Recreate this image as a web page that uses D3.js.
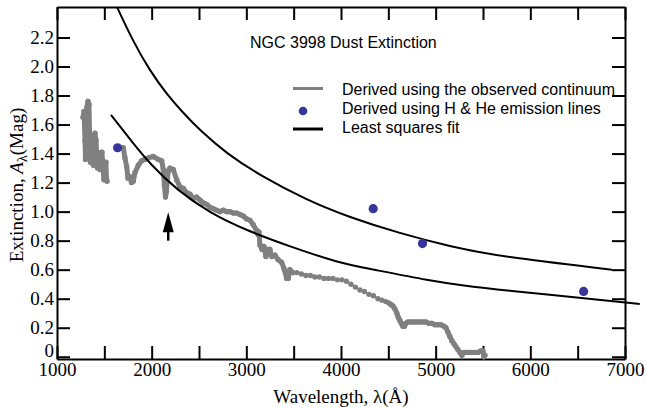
<!DOCTYPE html>
<html>
<head>
<meta charset="utf-8">
<script src="https://cdn.jsdelivr.net/npm/d3@7"></script>
<style>
  body { margin: 0; background: #fff; }
</style>
</head>
<body>
<div id="chart"></div>
<script>
// ---- data ----
// UV part of the continuum-derived curve (noisy, short wavelengths)
const uvWave = [1275, 1285, 1296, 1301, 1306, 1317, 1327, 1338, 1343, 1348, 1354, 1359, 1370, 1380, 1385, 1391,
  1401, 1412, 1422, 1428, 1433, 1444, 1454, 1465, 1475, 1486, 1496, 1507, 1517, 1522, 1528];
const uvExt = [1.65, 1.69, 1.49, 1.36, 1.56, 1.72, 1.76, 1.74, 1.56, 1.43, 1.34, 1.49, 1.52, 1.43, 1.32, 1.46,
  1.54, 1.49, 1.36, 1.30, 1.41, 1.38, 1.29, 1.36, 1.41, 1.30, 1.22, 1.29, 1.34, 1.23, 1.21];

// rest of the continuum-derived curve
const contWave = [1700, 1718, 1736, 1750, 1771, 1787, 1806, 1824, 1859, 1894, 1929, 1964, 2017, 2070, 2106, 2123,
  2135, 2146, 2156, 2167, 2175, 2193, 2228, 2264, 2299, 2334, 2370, 2405, 2440, 2475, 2510, 2545,
  2581, 2616, 2651, 2686, 2721, 2756, 2792, 2827, 2862, 2897, 2932, 2967, 3003, 3038, 3073, 3108,
  3126, 3133, 3144, 3165, 3186, 3207, 3228, 3249, 3270, 3302, 3334, 3373, 3397, 3426, 3443, 3460,
  3492, 3534, 3582, 3629, 3677, 3724, 3772, 3820, 3867, 3915, 3962, 4010, 4057, 4105, 4152, 4200,
  4247, 4295, 4342, 4390, 4432, 4474, 4506, 4527, 4548, 4569, 4590, 4606, 4622, 4638, 4654, 4670,
  4686, 4707, 4738, 4770, 4802, 4833, 4865, 4897, 4928, 4960, 4992, 5023, 5055, 5087, 5108, 5129,
  5150, 5171, 5192, 5213, 5234, 5256, 5277, 5298, 5319, 5351, 5382, 5414, 5446, 5477, 5499, 5509, 5520];
const contExt = [1.44, 1.37, 1.31, 1.23, 1.24, 1.20, 1.21, 1.27, 1.32, 1.35, 1.36, 1.37, 1.38, 1.36, 1.35, 1.29,
  1.18, 1.10, 1.14, 1.23, 1.28, 1.30, 1.29, 1.22, 1.17, 1.16, 1.13, 1.12, 1.09, 1.10, 1.08, 1.06,
  1.05, 1.03, 1.02, 1.01, 1.00, 1.01, 1.00, 1.00, 0.99, 0.99, 0.98, 0.97, 0.95, 0.94, 0.91, 0.87,
  0.84, 0.86, 0.77, 0.74, 0.76, 0.69, 0.74, 0.74, 0.69, 0.70, 0.67, 0.65, 0.61, 0.54, 0.54, 0.60,
  0.58, 0.58, 0.57, 0.56, 0.56, 0.55, 0.55, 0.54, 0.54, 0.54, 0.53, 0.53, 0.52, 0.50, 0.48, 0.46,
  0.45, 0.43, 0.42, 0.40, 0.39, 0.38, 0.37, 0.36, 0.35, 0.33, 0.30, 0.27, 0.25, 0.23, 0.21, 0.21,
  0.23, 0.24, 0.24, 0.24, 0.24, 0.24, 0.24, 0.24, 0.23, 0.23, 0.22, 0.22, 0.22, 0.21, 0.20, 0.17,
  0.14, 0.11, 0.09, 0.07, 0.05, 0.03, 0.01, 0.03, 0.03, 0.03, 0.03, 0.03, 0.03, 0.04, 0.04, 0.00, 0.01];
// stretch of the spectrum that shows as separate dots
const sparseFrom = 3500, sparseTo = 4520;

// H & He emission line points
const lineWave = [1640, 4340, 4861, 6563];
const lineExt = [1.44, 1.02, 0.78, 0.45];

// least squares fits (two curves)
const fitUpperWave = [1634, 1806, 1982, 2158, 2334, 2510, 2792, 3144, 3637, 4094, 4622, 5150, 5678, 6861];
const fitUpperExt = [2.41, 2.17, 1.97, 1.81, 1.68, 1.56, 1.40, 1.25, 1.08, 0.96, 0.85, 0.76, 0.69, 0.60];
const fitLowerWave = [1570, 1806, 1982, 2264, 2616, 3003, 3460, 3988, 4270, 4974, 5256, 5678, 6871, 7156];
const fitLowerExt = [1.667, 1.47, 1.33, 1.15, 0.99, 0.87, 0.76, 0.645, 0.61, 0.52, 0.495, 0.46, 0.384, 0.364];

// 2175 A bump marker
const arrowWave = 2175;
const arrowFrom = 0.80;
const arrowTo = 0.995;

const xTickValues = [1000, 1500, 2000, 2500, 3000, 3500, 4000, 4500, 5000, 5500, 6000, 6500, 7000];
const yTickValues = [0, 0.2, 0.4, 0.6, 0.8, 1.0, 1.2, 1.4, 1.6, 1.8, 2.0, 2.2];

const titleText = 'NGC 3998 Dust Extinction';
const legendLabels = ['Derived using the observed continuum', 'Derived using H & He emission lines', 'Least squares fit'];

// ---- chart ----
const width = 646, height = 407;
const plotLeft = 57, plotRight = 625, plotTop = 7, plotBottom = 359;
const grey = '#808080', blue = '#35359a';
const serif = '"Liberation Serif", "Times New Roman", serif';
const sans = '"Liberation Sans", Arial, sans-serif';
const serifSize = 19;

const svg = d3.select('#chart').append('svg')
    .attr('width', width)
    .attr('height', height);

const x = d3.scaleLinear().domain([1000, 7000]).range([plotLeft, plotRight]);
const y = d3.scaleLinear().domain([-0.0155, 2.41]).range([plotBottom, plotTop]);

function styleAxis(g, labels) {
    g.attr('font-family', serif).attr('font-size', serifSize);
    g.select('.domain').attr('stroke-width', 2);
    g.selectAll('.tick line').attr('stroke-width', 2);
    g.selectAll('.tick text').attr('fill', '#000');
    if (!labels) g.selectAll('.tick text').remove();
}

svg.append('g')
    .attr('transform', 'translate(0,' + plotBottom + ')')
    .call(d3.axisBottom(x).tickValues(xTickValues).tickSizeInner(-13).tickSizeOuter(0).tickPadding(4)
        .tickFormat(d => d % 1000 === 0 ? d : ''))
    .call(g => styleAxis(g, true));

svg.append('g')
    .attr('transform', 'translate(0,' + plotTop + ')')
    .call(d3.axisTop(x).tickValues(xTickValues).tickSizeInner(-13).tickSizeOuter(0))
    .call(g => styleAxis(g, false));

svg.append('g')
    .attr('transform', 'translate(' + plotLeft + ',0)')
    .call(d3.axisLeft(y).tickValues(yTickValues).tickSizeInner(-13).tickSizeOuter(0).tickPadding(3)
        .tickFormat(d => d === 0 ? '0' : d3.format('.1f')(d)))
    .call(g => styleAxis(g, true))
    .call(g => g.selectAll('.tick text').filter(d => d === 0).attr('dy', '0em'));

svg.append('g')
    .attr('transform', 'translate(' + plotRight + ',0)')
    .call(d3.axisRight(y).tickValues(yTickValues).tickSizeInner(-13).tickSizeOuter(0))
    .call(g => styleAxis(g, false));

// axis titles
svg.append('text')
    .attr('x', 341)
    .attr('y', 403)
    .attr('text-anchor', 'middle')
    .attr('font-family', serif)
    .attr('font-size', serifSize)
    .text('Wavelength, λ(Å)');

const yTitle = svg.append('text')
    .attr('transform', 'translate(23,185) rotate(-90)')
    .attr('text-anchor', 'middle')
    .attr('font-family', serif)
    .attr('font-size', serifSize);
yTitle.append('tspan').text('Extinction, ');
yTitle.append('tspan').attr('font-style', 'italic').text('A');
yTitle.append('tspan').attr('font-size', 14).attr('dy', 4).text('λ');
yTitle.append('tspan').attr('dy', -4).text('(Mag)');

// continuum-derived curve
function pts(w, a) { return w.map((d, i) => [d, a[i]]); }
const dense = d => d[0] < sparseFrom || d[0] > sparseTo;
const thickLine = d3.line().defined(dense).x(d => x(d[0])).y(d => y(d[1]));
const thinLine = d3.line().x(d => x(d[0])).y(d => y(d[1]));

[pts(uvWave, uvExt), pts(contWave, contExt)].forEach(series => {
    svg.append('path')
        .datum(series)
        .attr('d', thickLine)
        .attr('fill', 'none')
        .attr('stroke', grey)
        .attr('stroke-width', 5)
        .attr('stroke-linejoin', 'round')
        .attr('stroke-linecap', 'round');
    svg.append('path')
        .datum(series)
        .attr('d', thinLine)
        .attr('fill', 'none')
        .attr('stroke', grey)
        .attr('stroke-width', 1.5);
    svg.append('g').selectAll('circle')
        .data(series)
        .enter().append('circle')
        .attr('cx', d => x(d[0]))
        .attr('cy', d => y(d[1]))
        .attr('r', 2.7)
        .attr('fill', grey);
});

// fits
const smooth = d3.line().x(d => x(d[0])).y(d => y(d[1])).curve(d3.curveBasis);
[pts(fitUpperWave, fitUpperExt), pts(fitLowerWave, fitLowerExt)].forEach(series => {
    svg.append('path')
        .datum(series)
        .attr('d', smooth)
        .attr('fill', 'none')
        .attr('stroke', '#000')
        .attr('stroke-width', 2);
});

// emission line points
svg.append('g').selectAll('circle')
    .data(pts(lineWave, lineExt))
    .enter().append('circle')
    .attr('cx', d => x(d[0]))
    .attr('cy', d => y(d[1]))
    .attr('r', 4.6)
    .attr('fill', blue);

// arrow at the 2175 bump
const ax = x(arrowWave), tipY = y(arrowTo);
svg.append('line')
    .attr('x1', ax).attr('x2', ax)
    .attr('y1', y(arrowFrom)).attr('y2', tipY + 12)
    .attr('stroke', '#000')
    .attr('stroke-width', 2.5);
svg.append('path')
    .attr('d', 'M' + ax + ',' + tipY + 'L' + (ax + 5.5) + ',' + (tipY + 20) + 'L' + (ax - 5.5) + ',' + (tipY + 20) + 'Z')
    .attr('fill', '#000');

// title + legend
svg.append('text')
    .attr('x', 250)
    .attr('y', 48)
    .attr('font-family', sans)
    .attr('font-size', 16)
    .text(titleText);

const legend = svg.append('g').attr('font-family', sans).attr('font-size', 16);
const rowY = [95, 114, 133];
legendLabels.forEach((label, i) => {
    legend.append('text')
        .attr('x', 342)
        .attr('y', rowY[i])
        .text(label);
});
legend.append('line')
    .attr('x1', 293).attr('x2', 323)
    .attr('y1', 88.5).attr('y2', 88.5)
    .attr('stroke', grey).attr('stroke-width', 3);
legend.append('circle')
    .attr('cx', 303).attr('cy', 111)
    .attr('r', 4.3)
    .attr('fill', blue);
legend.append('line')
    .attr('x1', 293).attr('x2', 323)
    .attr('y1', 129).attr('y2', 129)
    .attr('stroke', '#000').attr('stroke-width', 3);
</script>
</body>
</html>
